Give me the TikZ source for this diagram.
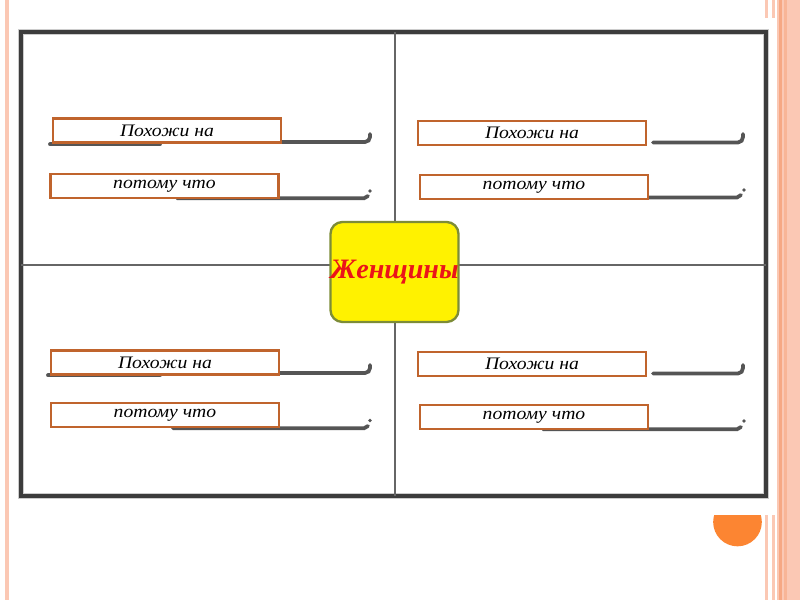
\documentclass[tikz,border=0pt]{standalone}
\usepackage{fontspec}
\setmainfont{Liberation Serif}
\newfontfamily\boxfont[FakeStretch=1.12]{Liberation Serif}
\definecolor{boxorange}{RGB}{192,100,45}
\definecolor{framegray}{RGB}{60,60,60}
\definecolor{linegray}{RGB}{85,85,85}
\definecolor{olivebord}{RGB}{125,140,55}
\definecolor{salmon}{RGB}{251,200,180}
\definecolor{darksalmon}{RGB}{246,168,132}
\definecolor{dotorange}{RGB}{252,133,50}
\definecolor{textred}{RGB}{235,20,25}
\tikzset{
  answer/.style={draw=boxorange,line width=1.9pt,fill=white,minimum width=6.84cm,
    minimum height=0.72cm,inner sep=0pt,font=\boxfont\itshape\fontsize{15}{17}\selectfont},
  blank/.style={linegray,line width=3.2pt,line cap=round},
  women/.style={draw=olivebord,line width=2pt,fill=yellow,rounded corners=0.36cm,
    minimum width=3.75cm,minimum height=3cm,inner sep=0pt,text=textred,
    font=\bfseries\itshape\fontsize{24}{27}\selectfont},
}
\begin{document}
\begin{tikzpicture}[x=0.03cm,y=-0.03cm]
\useasboundingbox (0,0) rectangle (800,600);
\fill[white] (0,0) rectangle (800,600);
% slide decoration
\fill[salmon] (5,0) rectangle (9,600);
\fill[salmon] (764.5,0) rectangle (767.5,600);
\fill[salmon] (772,0) rectangle (775,600);
\fill[salmon] (777,0) rectangle (800,600);
\fill[darksalmon] (779,0) rectangle (781.5,600);
\fill[darksalmon!60!salmon] (784,0) rectangle (787,600);
\fill[dotorange] (737.5,522) circle[radius=0.73cm];
\fill[white] (13,18) rectangle (777,515);
% frame
\draw[gray!40,line width=5pt] (21,32) rectangle (766,496);
\draw[framegray,line width=2.8pt] (21,32) rectangle (766,496);
\draw[gray!80!black,line width=1.3pt] (395,32) -- (395,496);
\draw[gray!80!black,line width=1.3pt] (21,265) -- (766,265);
%
\draw[blank] (50,144.3) -- (160,144.3);
\draw[blank] (250,142) -- (365,142) to[out=0,in=-90] (370,137) -- (370,134);
\draw[blank] (177,198.3) -- (364,198.3) -- (368,196);
\fill[linegray] (370,191) circle[radius=1.6pt];
\node[answer] (simTL) at (167,130.5) {Похожи на};
\node[answer] (whyTL) at (164.5,186) {потому что};
%
\draw[blank] (653,142.5) -- (738,142.5) to[out=0,in=-90] (743,137) -- (743,134);
\draw[blank] (600,197.5) -- (737,197.5) -- (741,195);
\fill[linegray] (744,190) circle[radius=1.6pt];
\node[answer] (simTR) at (532,133) {Похожи на};
\node[answer] (whyTR) at (534,187) {потому что};
%
\draw[blank] (48,375.3) -- (160,375.3);
\draw[blank] (250,373) -- (365,373) to[out=0,in=-90] (370,368) -- (370,365);
\draw[blank] (173,428.3) -- (364,428.3) -- (368,426);
\fill[linegray] (370,420.5) circle[radius=1.6pt];
\node[answer] (simBL) at (165,362.5) {Похожи на};
\node[answer] (whyBL) at (165,415) {потому что};
%
\draw[blank] (653,373.5) -- (738,373.5) to[out=0,in=-90] (743,368) -- (743,365);
\draw[blank] (543,429.3) -- (737,429.3) -- (741,427);
\fill[linegray] (744,421) circle[radius=1.6pt];
\node[answer] (simBR) at (532,364) {Похожи на};
\node[answer] (whyBR) at (534,417) {потому что};
%
\node[women] (women) at (394.5,272) {Женщины};
\end{tikzpicture}
\end{document}
